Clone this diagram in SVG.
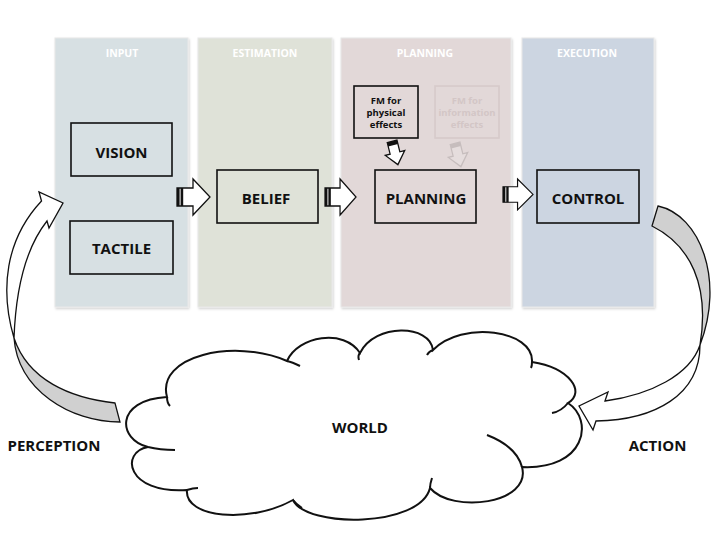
<svg xmlns="http://www.w3.org/2000/svg" width="720" height="540" viewBox="0 0 720 540">
<style>
.panel{stroke:#e8e8e8;stroke-width:1}
.ptitle{font-family:"Open Sans","Liberation Sans",sans-serif;font-weight:bold;font-size:10.5px;fill:#ffffff;text-anchor:middle}
.box{fill:none;stroke:#111;stroke-width:1.6}
.lbl{font-family:"Open Sans","Liberation Sans",sans-serif;font-weight:bold;font-size:15px;fill:#111;text-anchor:middle}
.small{font-family:"Open Sans","Liberation Sans",sans-serif;font-weight:bold;font-size:9.5px;fill:#111;text-anchor:middle}
.faded{font-family:"Open Sans","Liberation Sans",sans-serif;font-weight:bold;font-size:9.5px;fill:#d3c6c6;text-anchor:middle}
.barrow{fill:#fff;stroke:#111;stroke-width:1.3;stroke-linejoin:miter}
.curve{stroke:#111;stroke-width:1.3;stroke-linejoin:miter}
</style>
<defs>
<filter id="sh" x="-5%" y="-5%" width="110%" height="110%">
<feDropShadow dx="1" dy="1.5" stdDeviation="1" flood-color="#000" flood-opacity="0.18"/>
</filter>
<g id="blockArrow">
<path class="barrow" d="M0,9 H16 V0 L33,18 L16,36 V27 H0 Z"/>
<rect x="0" y="9" width="2.6" height="18" fill="#111"/>
<rect x="3.6" y="9" width="2.6" height="18" fill="#111"/>
</g>
<g id="downArrow">
<path d="M-5,-12 H5 V0 H10 L0,12 L-10,0 H-5 Z" fill="#fff" stroke="#111" stroke-width="1.3"/>
<rect x="-5" y="-12" width="10" height="4" fill="#111"/>
</g>
</defs>
<rect width="720" height="540" fill="#fff"/>

<g id="panel-input">
<rect class="panel" x="55" y="38" width="133" height="269" fill="#d7e0e3" filter="url(#sh)"/>
<text class="ptitle" x="122" y="56.5">INPUT</text>
</g>
<g id="panel-estimation">
<rect class="panel" x="198" y="38" width="134" height="269" fill="#dfe2d8" filter="url(#sh)"/>
<text class="ptitle" x="265" y="56.5">ESTIMATION</text>
</g>
<g id="panel-planning">
<rect class="panel" x="341" y="38" width="170" height="269" fill="#e2d8d8" filter="url(#sh)"/>
<text class="ptitle" x="425" y="56.5">PLANNING</text>
</g>
<g id="panel-execution">
<rect class="panel" x="522" y="38" width="132" height="269" fill="#ccd5e1" filter="url(#sh)"/>
<text class="ptitle" x="587" y="56.5">EXECUTION</text>
</g>

<g id="vision">
<rect class="box" x="71" y="123" width="101" height="53"/>
<text class="lbl" x="121.5" y="157.5">VISION</text>
</g>
<g id="tactile">
<rect class="box" x="70" y="221" width="103" height="53"/>
<text class="lbl" x="121.5" y="253.5">TACTILE</text>
</g>
<g id="belief">
<rect class="box" x="217" y="170" width="101" height="53"/>
<text class="lbl" x="266" y="204">BELIEF</text>
</g>
<g id="planning">
<rect class="box" x="375" y="170" width="101" height="53"/>
<text class="lbl" x="426" y="203.5">PLANNING</text>
</g>
<g id="control">
<rect class="box" x="537" y="170" width="102" height="53"/>
<text class="lbl" x="588" y="203.5">CONTROL</text>
</g>
<g id="fm-physical">
<rect class="box" x="354" y="86" width="64" height="52"/>
<text class="small" x="386" y="103.5">FM for</text>
<text class="small" x="386" y="115.5">physical</text>
<text class="small" x="386" y="127.5">effects</text>
</g>
<g id="fm-information">
<rect x="435" y="86" width="64" height="52" fill="none" stroke="#d6caca" stroke-width="1.6"/>
<text class="faded" x="467" y="103.5">FM for</text>
<text class="faded" x="467" y="115.5">information</text>
<text class="faded" x="467" y="127.5">effects</text>
</g>

<g id="world">
<path d="M148,447 C118,440 114,400 167,397 C156,356 234,338 287,361 C298,336 344,328 360,353 C375,323 430,324 433,350 C462,320 534,330 532,362 C570,368 586,392 568,403 C594,420 586,470 522,467 C532,504 452,514 430,488 C420,528 306,528 293,500 C250,524 184,518 187,490 C126,494 120,452 148,447 Z" fill="#fff" stroke="#111" stroke-width="2"/>
<g fill="none" stroke="#111" stroke-width="2">
<path d="M167,397 C167,401 168,404 170,406"/>
<path d="M287,361 C292,362 296,364 300,366"/>
<path d="M360,353 C358,355 358,357 359,360"/>
<path d="M433,350 C430,351 428,353 427,355"/>
<path d="M532,362 C532,364 532,366 531,368"/>
<path d="M568,403 C564,408 558,412 552,413"/>
<path d="M487,435 C505,442 518,452 522,467"/>
<path d="M430,488 C430,484 431,481 432,478"/>
<path d="M293,500 C296,504 299,506 302,508"/>
<path d="M187,490 C190,489 194,488 198,488"/>
<path d="M148,447 C156,449 166,450 175,450"/>
</g>
<text class="lbl" x="360" y="433">WORLD</text>
</g>

<g id="perception-label"><text class="lbl" x="54" y="450.5">PERCEPTION</text></g>
<g id="action-label"><text class="lbl" x="657.5" y="450.5">ACTION</text></g>

<g id="connectors">
<use href="#blockArrow" x="177" y="179"/>
<use href="#blockArrow" transform="translate(325,179) scale(0.94,1)"/>
<use href="#blockArrow" transform="translate(503,179) scale(0.91,0.86)"/>
<use href="#downArrow" transform="translate(395,153) rotate(-14)"/>
<g opacity="0.13"><use href="#downArrow" transform="translate(458,155) rotate(-14)"/></g>
<g id="perception-arrow">
<path class="curve" fill="#d0d0d0" d="M14,338 C18,390 70,422 120,422 L115,403 C70,398 28,380 14,338 Z"/>
<path class="curve" fill="#fff" d="M41.5,201 L39,192 L63,203 L49,228 L47,221 C28,245 16,285 14,338 C0,290 5,240 41.5,201 Z"/>
</g>
<g id="action-arrow">
<path class="curve" fill="#d0d0d0" d="M658,206 C700,215 725,280 700,345 C710,285 690,245 652,226 Z"/>
<path class="curve" fill="#fff" d="M700,345 C690,375 650,395 605,401 L608,392 L579,406 L593,430 L596,421 C655,420 700,395 700,345 Z"/>
</g>
</g>
</svg>
